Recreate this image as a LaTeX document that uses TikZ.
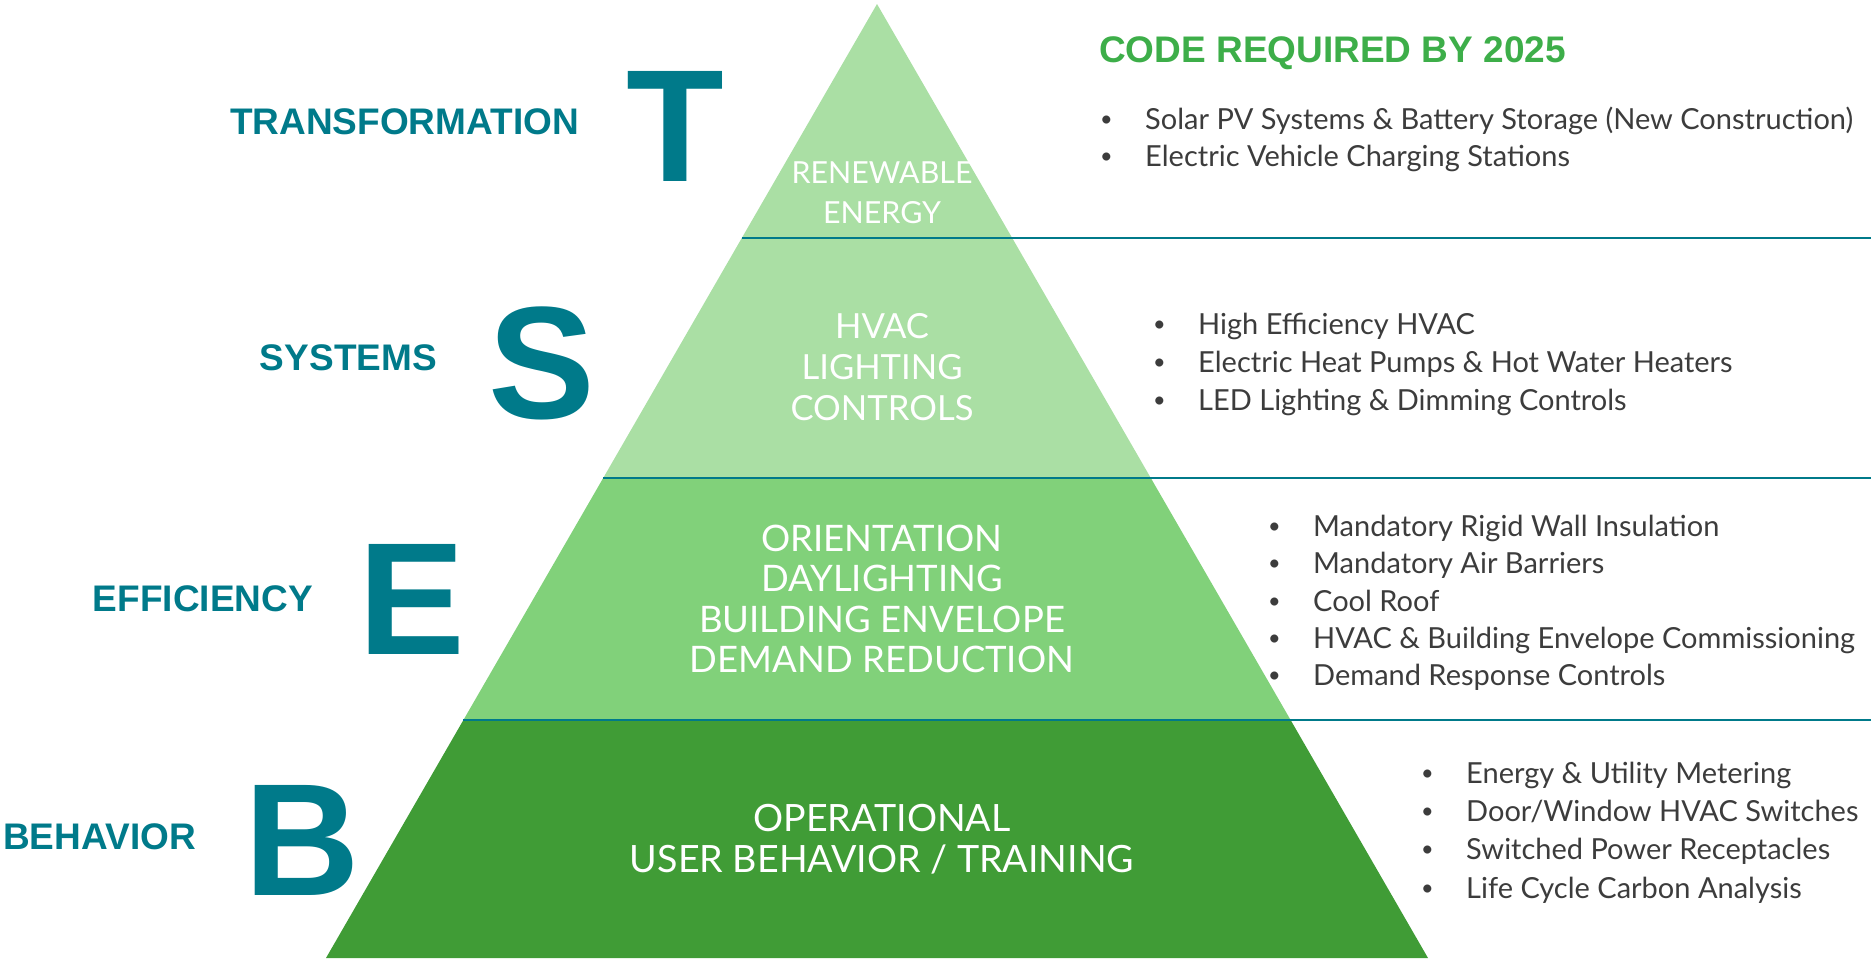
\documentclass[tikz,border=0pt]{standalone}
\usepackage{fontspec}
\setmainfont{Lato}
\newfontfamily\headfont{Liberation Sans}
\usetikzlibrary{positioning}

\definecolor{tealc}{HTML}{007A8A}
\definecolor{paleg}{HTML}{AADFA4}
\definecolor{midg}{HTML}{81D17A}
\definecolor{darkg}{HTML}{409C36}
\definecolor{codeg}{HTML}{3DAE49}
\definecolor{itemc}{HTML}{3C3C3C}

\newcommand{\itm}[1]{\makebox[45pt][l]{\raisebox{2.5pt}{\scalebox{0.75}{\textbullet}}}#1}

\begin{document}
\begin{tikzpicture}[x=1pt,y=-1pt,
    word/.style={font=\headfont\bfseries\fontsize{37}{40}\selectfont, text=tealc, inner sep=0pt},
    bigl/.style={font=\headfont\bfseries\fontsize{160}{160}\selectfont, text=tealc, inner sep=0pt, anchor=base},
    tiertxt/.style={text=white, align=center, inner sep=0pt},
    item/.style={font=\fontsize{29}{34}\selectfont, text=itemc, inner sep=0pt, anchor=base west}]

  \useasboundingbox (0,0) rectangle (1871,959);

  % pyramid
  \fill[paleg] (877,4) -- (1012.2,238) -- (741.8,238) -- cycle;
  \fill[paleg] (741.8,238) -- (1012.2,238) -- (1150.8,478) -- (603.2,478) -- cycle;
  \fill[midg] (603.2,478) -- (1150.8,478) -- (1290.6,720) -- (463.4,720) -- cycle;
  \fill[darkg] (463.4,720) -- (1290.6,720) -- (1428,958) -- (326,958) -- cycle;

  \coordinate (l1) at (741.8,238);
  \coordinate (r1) at (1871,238);
  \coordinate (l2) at (603.2,478);
  \coordinate (r2) at (1871,478);
  \coordinate (l3) at (463.4,720);
  \coordinate (r3) at (1871,720);

  \begin{scope}[line width=2.5pt, tealc]
    \draw (l1) -- (r1);
    \draw (l2) -- (r2);
    \draw (l3) -- (r3);
  \end{scope}

  % text inside the tiers
  \node[tiertxt, font=\fontsize{30.4}{40}\selectfont] (ren) at (882,193) {RENEWABLE\\ENERGY};
  \node[tiertxt, font=\fontsize{34.6}{41}\selectfont] (hvac) at (882,367) {HVAC\\LIGHTING\\CONTROLS};
  \node[tiertxt, font=\fontsize{36.5}{40.5}\selectfont] (orient) at (882,599) {ORIENTATION\\DAYLIGHTING\\BUILDING ENVELOPE\\DEMAND REDUCTION};
  \node[tiertxt, font=\fontsize{37.6}{41}\selectfont] (oper) at (882,839) {OPERATIONAL\\USER BEHAVIOR / TRAINING};

  % left side
  \node[word, anchor=base east] (trans) at (579,134) {TRANSFORMATION};
  \node[word, anchor=base east] (sys) at (437,370.5) {SYSTEMS};
  \node[word, anchor=base east] (eff) at (313,611.5) {EFFICIENCY};
  \node[word, anchor=base east] (beh) at (196,849.5) {BEHAVIOR};

  \node[bigl] (T) at (675,181) {T};
  \node[bigl] (S) at (542,418) {S};
  \node[bigl] (E) at (412,654) {E};
  \node[bigl] (B) at (302,895) {B};

  % right side
  \node[word, text=codeg, anchor=base west] (code) at (1099,62) {CODE REQUIRED BY 2025};

  \begin{scope}[every node/.style={item}]
    \node (t1) at (1100,129) {\itm{Solar PV Systems \& Battery Storage (New Construction)}};
    \node (t2) at (1100,166) {\itm{Electric Vehicle Charging Stations}};

    \node (s1) at (1153,334) {\itm{High Efficiency HVAC}};
    \node (s2) at (1153,372) {\itm{Electric Heat Pumps \& Hot Water Heaters}};
    \node (s3) at (1153,410) {\itm{LED Lighting \& Dimming Controls}};

    \node (e1) at (1268,536) {\itm{Mandatory Rigid Wall Insulation}};
    \node (e2) at (1268,573) {\itm{Mandatory Air Barriers}};
    \node (e3) at (1268,611) {\itm{Cool Roof}};
    \node (e4) at (1268,648) {\itm{HVAC \& Building Envelope Commissioning}};
    \node (e5) at (1268,685) {\itm{Demand Response Controls}};

    \node (b1) at (1421,783) {\itm{Energy \& Utility Metering}};
    \node (b2) at (1421,821) {\itm{Door/Window HVAC Switches}};
    \node (b3) at (1421,859) {\itm{Switched Power Receptacles}};
    \node (b4) at (1421,898) {\itm{Life Cycle Carbon Analysis}};
  \end{scope}

\end{tikzpicture}
\end{document}
